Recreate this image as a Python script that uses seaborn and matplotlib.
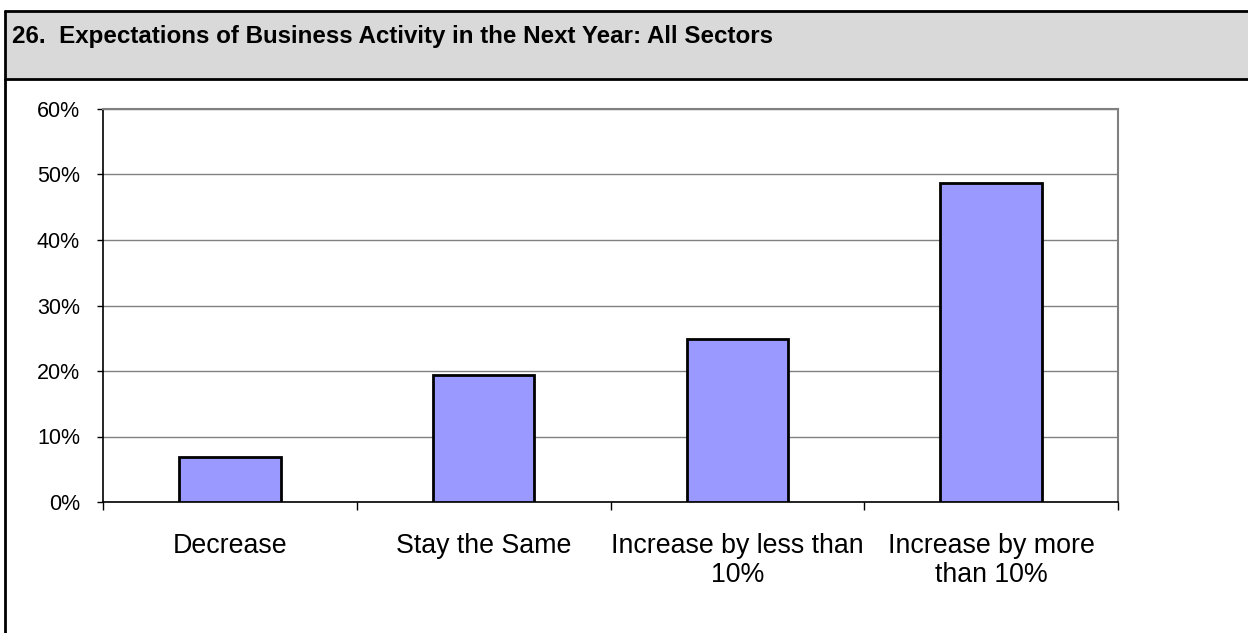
import matplotlib
matplotlib.use("Agg")
import matplotlib.pyplot as plt
from matplotlib.patches import Rectangle
from matplotlib.lines import Line2D
from matplotlib.ticker import FuncFormatter, MultipleLocator, FixedLocator
import seaborn as sns
import pandas as pd

categories = ["Decrease", "Stay the Same", "Increase by less than\n10%", "Increase by more\nthan 10%"]
shares = [0.069, 0.194, 0.249, 0.487]
title = "26.  Expectations of Business Activity in the Next Year: All Sectors"

sns.set_theme(style="white")
plt.rcParams["font.family"] = ["Liberation Sans", "DejaVu Sans"]

W, H = 1248, 633
fig = plt.figure(figsize=(W / 100, H / 100), dpi=100)
fig.patch.set_facecolor("white")

# header band and frame
fig.add_artist(Rectangle((5 / W, 1 - 79 / H), 1.2, (79 - 11) / H, transform=fig.transFigure,
                         facecolor="#d9d9d9", edgecolor="none", zorder=0))
fig.add_artist(Line2D([5 / W, 5 / W], [0, 1 - 11 / H], transform=fig.transFigure, color="black", lw=2))
fig.add_artist(Line2D([5 / W, 1], [1 - 11 / H, 1 - 11 / H], transform=fig.transFigure, color="black", lw=2))
fig.add_artist(Line2D([5 / W, 1], [1 - 79 / H, 1 - 79 / H], transform=fig.transFigure, color="black", lw=2))
fig.text(12 / W, 1 - 37 / H, title, fontsize=17.4, fontweight="bold", va="center", ha="left",
         color="black")

ax = fig.add_axes([103 / W, 1 - 502 / H, (1118 - 103) / W, (502 - 109) / H])
df = pd.DataFrame({"category": categories, "share": shares})
sns.barplot(data=df, x="category", y="share", ax=ax, color="#9999ff", saturation=1,
            width=0.4, edgecolor="black", linewidth=2, zorder=3)

ax.set_ylim(0, 0.6)
ax.set_xlim(-0.5, len(categories) - 0.5)
ax.yaxis.set_major_locator(MultipleLocator(0.1))
ax.yaxis.set_major_formatter(FuncFormatter(lambda v, p: f"{v * 100:.0f}%"))
ax.grid(axis="y", color="#808080", lw=1, zorder=0)
ax.set_axisbelow(True)
ax.set_xlabel("")
ax.set_ylabel("")

for side in ["top", "right"]:
    ax.spines[side].set_color("#808080")
    ax.spines[side].set_linewidth(1.5)
for side in ["left", "bottom"]:
    ax.spines[side].set_color("black")
    ax.spines[side].set_linewidth(1.2)

ax.tick_params(axis="y", which="major", left=True, length=4.5, width=1, color="black",
               labelsize=15.5, pad=12, labelcolor="black")
ax.set_xticks(range(len(categories)))
ax.set_xticklabels(categories)
ax.tick_params(axis="x", which="major", bottom=False, length=0, labelsize=19.3, pad=22.5,
               labelcolor="black")
for t in ax.get_xticklabels():
    t.set_linespacing(1.15)
ax.xaxis.set_minor_locator(FixedLocator([-0.5, 0.5, 1.5, 2.5, 3.5]))
ax.tick_params(axis="x", which="minor", bottom=True, length=6, width=1, color="black")

fig.savefig("out.png", dpi=100)
